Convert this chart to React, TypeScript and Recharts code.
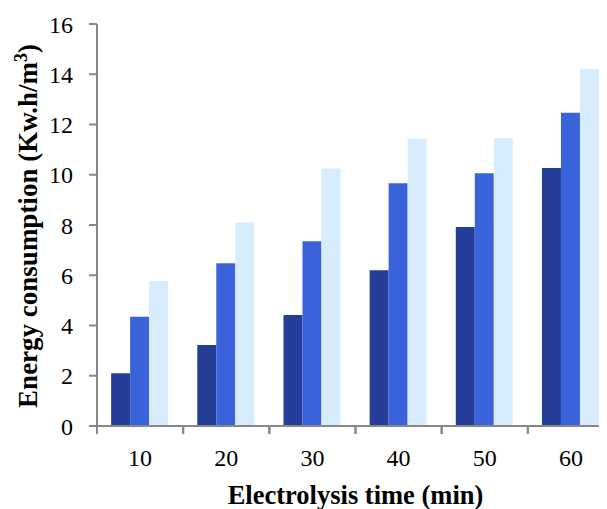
import React from "react";
import { BarChart, Bar, XAxis, YAxis, Label } from "recharts";

const categories = ["10", "20", "30", "40", "50", "60"];
const seriesA = [2.1, 3.22, 4.42, 6.2, 7.92, 10.27];
const seriesB = [4.35, 6.48, 7.35, 9.66, 10.06, 12.47];
const seriesC = [5.77, 8.1, 10.25, 11.43, 11.46, 14.21];
const yTicks = [0, 2, 4, 6, 8, 10, 12, 14, 16];

const data = categories.map((c, i) => ({ t: c, a: seriesA[i], b: seriesB[i], c: seriesC[i] }));

const FONT = '"Liberation Serif", "Times New Roman", serif';
const AXIS = "#878787";

const XTick = (props: any) => {
  const { x, y, payload } = props;
  const half = payload && payload.offset ? payload.offset : 43;
  return (
    <g>
      <line x1={x - half} x2={x - half} y1={y - 8} y2={y} stroke={AXIS} strokeWidth={2} />
      <line x1={x + half} x2={x + half} y1={y - 8} y2={y} stroke={AXIS} strokeWidth={2} />
      <text x={x} y={y + 32} textAnchor="middle" fontFamily={FONT} fontSize={24} fill="#000">
        {payload.value}
      </text>
    </g>
  );
};

const YLabel = (props: any) => {
  const vb = props.viewBox || { x: 0, y: 16, width: 89, height: 402 };
  const cx = vb.x + 29;
  const cy = vb.y + vb.height / 2 + 1;
  return (
    <text
      x={cx}
      y={cy}
      transform={`rotate(-90, ${cx}, ${cy})`}
      textAnchor="middle"
      fontFamily={FONT}
      fontWeight="bold"
      fontSize={27}
      fill="#000"
    >
      <tspan>Energy consumption (Kw.h/m</tspan>
      <tspan dy={-10} fontSize={18}>3</tspan>
      <tspan dy={10}>)</tspan>
    </text>
  );
};

export default function App() {
  return (
    <div style={{ width: 599, height: 501, overflow: "hidden" }}>
      <BarChart
        width={614}
        height={501}
        data={data}
        margin={{ top: 16, right: 8, bottom: 0, left: 0 }}
        barCategoryGap="16.4%"
        barGap={0}
      >
        <XAxis
          dataKey="t"
          height={83}
          stroke={AXIS}
          strokeWidth={2}
          tickLine={false}
          tickSize={8}
          tickMargin={0}
          tick={<XTick />}
          interval={0}
        >
          <Label
            value="Electrolysis time (min)"
            position="insideBottom"
            offset={5}
            style={{ fontFamily: FONT, fontWeight: "bold", fontSize: 26.5, fill: "#000" }}
          />
        </XAxis>
        <YAxis
          width={89}
          domain={[0, 16]}
          ticks={yTicks}
          interval={0}
          stroke={AXIS}
          strokeWidth={2}
          tickSize={8}
          tickMargin={16}
          tickLine={{ stroke: AXIS, strokeWidth: 2 }}
          tick={{ fontFamily: FONT, fontSize: 24, fill: "#000" }}
        >
          <Label content={<YLabel />} />
        </YAxis>
        <Bar dataKey="a" fill="#253F98" isAnimationActive={false} />
        <Bar dataKey="b" fill="#3A63DB" isAnimationActive={false} />
        <Bar dataKey="c" fill="#D7ECFD" isAnimationActive={false} />
      </BarChart>
    </div>
  );
}
